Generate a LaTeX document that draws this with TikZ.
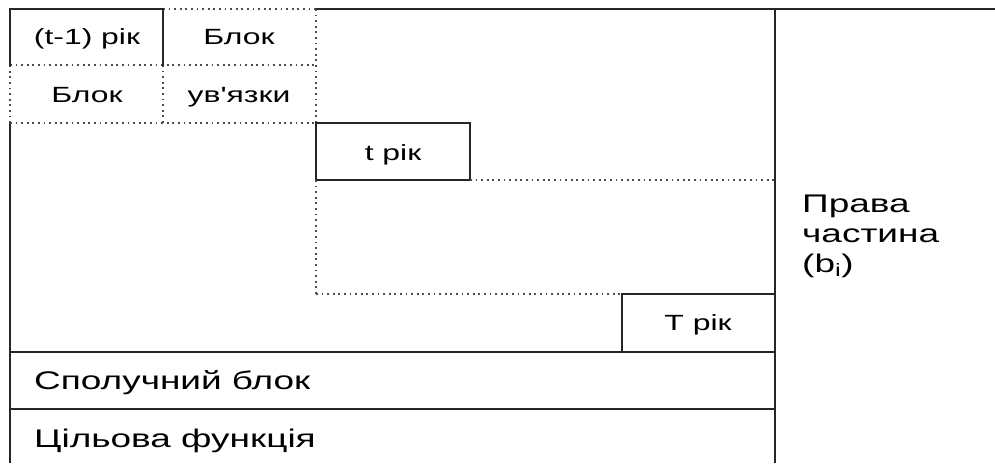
\documentclass[tikz,border=0pt]{standalone}
\usepackage{fontspec}
\setmainfont{Liberation Sans}[FakeStretch=1.45]
\newfontfamily\plainapos{Liberation Sans}[FakeStretch=1.45]
\begin{document}
\begin{tikzpicture}[x=1pt,y=-1pt,
  solidln/.style={line width=2.4pt, line cap=rect, black!85},
  frameln/.style={line width=2pt, black!85},
  dotln/.style={line width=1.8pt, dash pattern=on 1.8pt off 3.8pt, black!70},
  lbl/.style={font=\fontsize{22}{26}\selectfont, inner sep=0pt, anchor=base},
  big/.style={font=\fontsize{25.5}{30}\selectfont, inner sep=0pt, anchor=base west, align=left}]
\useasboundingbox (0,0) rectangle (995,463);
% frame
\draw[frameln] (10,463) -- (10,123);
\draw[dotln] (10,123) -- (10,65);
\draw[dotln] (163,9) -- (316,9);
\draw[frameln] (316,9) -- (995,9);
\draw[dotln] (10,65) -- (316,65);
\draw[dotln] (163,65) -- (163,123);
\draw[dotln] (316,9) -- (316,123);
\draw[dotln] (10,123) -- (316,123);
\draw[solidln] (10,65) -- (10,9) -- (163,9) -- (163,65);
\draw[solidln] (316,123) rectangle (470,180);
\draw[dotln] (470,180) -- (775,180);
\draw[dotln] (316,180) -- (316,294);
\draw[dotln] (316,294) -- (622,294);
\draw[solidln] (622,352) -- (622,294) -- (775,294);
\draw[frameln] (775,9) -- (775,463);
\draw[frameln] (10,352) -- (775,352);
\draw[frameln] (10,409) -- (775,409);
% labels
\node[lbl] (prev) at (87,44) {(t-1) рік};
\node[lbl] (blok1) at (239,44) {Блок};
\node[lbl] (blok2) at (87,102) {Блок};
\node[lbl] (uvyaz) at (239,102) {ув{\plainapos '}язки};
\node[lbl] (trik) at (393,160) {t рік};
\node[lbl] (Trik) at (698,330) {T рік};
\node[big] (spol) at (34,389) {Сполучний блок};
\node[big] (cil) at (34,447) {Цільова функція};
\node[big] (prava) at (802,272) {Права\\частина\\(b\textsubscript{i})};
\end{tikzpicture}
\end{document}
